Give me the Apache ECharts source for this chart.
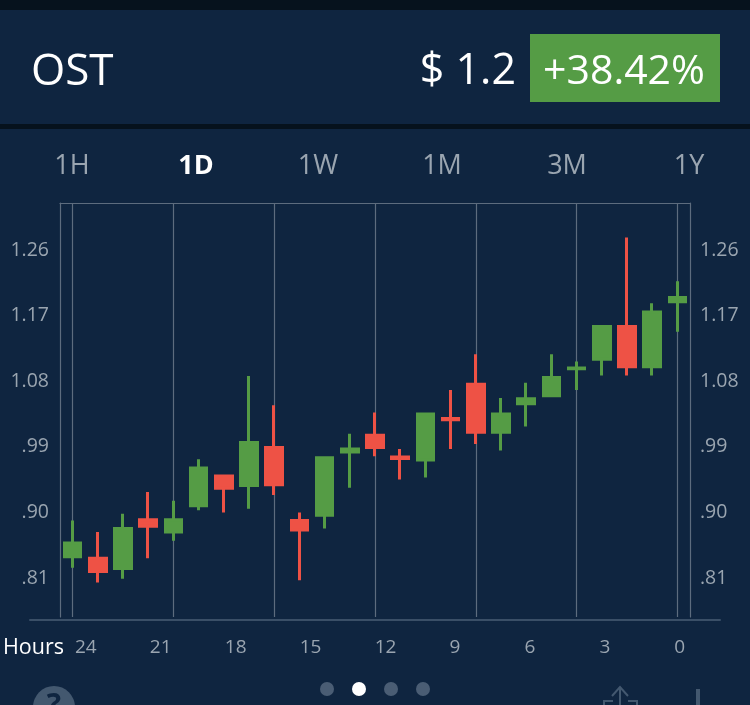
<!DOCTYPE html>
<html>
<head>
<meta charset="utf-8">
<style>
html,body{margin:0;padding:0;background:#0f2540;}
#chart{width:750px;height:705px;}
</style>
<script src="https://cdn.jsdelivr.net/npm/echarts@6/dist/echarts.min.js"></script>
</head>
<body>
<div id="chart"></div>
<script>
// candles, oldest first
var candles = ['c0','c1','c2','c3','c4','c5','c6','c7','c8','c9','c10','c11','c12','c13','c14','c15','c16','c17','c18','c19','c20','c21','c22','c23','c24'];
var opens  = [.839,.837,.823,.890,.873,.909,.950,.937,.989,.889,.896,.983,1.006,.976,.972,1.029,1.076,1.010,1.049,1.060,1.097,1.110,1.155,1.100,1.189];
var closes = [.858,.819,.878,.881,.890,.961,.933,.996,.938,.876,.975,.987,.989,.974,1.035,1.027,1.010,1.035,1.056,1.085,1.098,1.155,1.100,1.175,1.195];
var lows   = [.824,.804,.809,.837,.861,.903,.900,.905,.924,.807,.878,.934,.977,.945,.948,.987,.994,.985,1.018,1.058,1.068,1.088,1.088,1.088,1.148];
var highs  = [.889,.873,.898,.928,.916,.973,.952,1.087,1.047,.900,.977,1.008,1.037,.987,1.037,1.068,1.117,1.057,1.078,1.117,1.107,1.157,1.277,1.187,1.217];

var priceTicks = [.81,.90,.99,1.08,1.17,1.26];
var hourTicks = [24,21,18,15,12,9,6,3,0];
var tabs = ['1H','1D','1W','1M','3M','1Y'];
var pageDots = [0,1,2,3];

var BG = '#0f2540', DARK = '#06121d', GREEN = '#559c45', RED = '#ee5245';
var LINE = '#5d6c7e', MUTED = '#9aa5b0', ICON = '#43586f';
var FONT = '"Open Sans", sans-serif';

var candleData = candles.map(function (c, i) {
    return [opens[i], closes[i], lows[i], highs[i]];
});

function priceLabel(v) {
    return v.toFixed(2).replace(/^0/, '');
}

var tabX = [72, 196, 318, 442, 567, 689];
var dotX = [327, 359, 391, 423];

var graphics = [
    {type: 'rect', shape: {x: 0, y: 0, width: 750, height: 10}, style: {fill: DARK}},
    {type: 'rect', shape: {x: 0, y: 124, width: 750, height: 5}, style: {fill: DARK}},
    {type: 'rect', shape: {x: 530, y: 34, width: 190, height: 68}, style: {fill: GREEN}},
    {type: 'text', x: 31, y: 72, style: {text: 'OST', fill: '#fff', font: '44px ' + FONT, textVerticalAlign: 'middle'}},
    {type: 'text', x: 516, y: 72, style: {text: '$ 1.2', fill: '#fff', font: '43px ' + FONT, textAlign: 'right', textVerticalAlign: 'middle'}},
    {type: 'text', x: 624, y: 72, style: {text: '+38.42%', fill: '#fff', font: '41px ' + FONT, textAlign: 'center', textVerticalAlign: 'middle'}},
    {type: 'text', x: 3, y: 648, style: {text: 'Hours', fill: '#fff', font: '21.5px ' + FONT, textVerticalAlign: 'middle'}},
    // help + share icons, cut by the bottom of the picture
    {type: 'circle', shape: {cx: 54, cy: 707, r: 21}, style: {fill: ICON}},
    {type: 'text', x: 54, y: 706, style: {text: '?', fill: BG, font: 'bold 30px ' + FONT, textAlign: 'center', textVerticalAlign: 'middle'}},
    {type: 'polyline', shape: {points: [[604, 705], [604, 701], [613, 701]]}, style: {stroke: ICON, lineWidth: 2, fill: null}},
    {type: 'polyline', shape: {points: [[628, 701], [637, 701], [637, 705]]}, style: {stroke: ICON, lineWidth: 2, fill: null}},
    {type: 'polyline', shape: {points: [[620, 705], [620, 688]]}, style: {stroke: ICON, lineWidth: 2, fill: null}},
    {type: 'polyline', shape: {points: [[612, 696], [620, 687], [628, 696]]}, style: {stroke: ICON, lineWidth: 2, fill: null}},
    {type: 'rect', shape: {x: 696, y: 689, width: 4, height: 16}, style: {fill: ICON}}
];
tabs.forEach(function (t, i) {
    graphics.push({type: 'text', x: tabX[i], y: 166, style: {
        text: t,
        fill: t == '1D' ? '#fff' : MUTED,
        font: (t == '1D' ? 'bold ' : '') + '27px ' + FONT,
        textAlign: 'center', textVerticalAlign: 'middle'
    }});
});
pageDots.forEach(function (d, i) {
    graphics.push({type: 'circle', shape: {cx: dotX[i], cy: 689, r: 7}, style: {fill: d == 1 ? '#fff' : '#4a5d74'}});
});

var myChart = echarts.init(document.getElementById('chart'));
var option = {
    animation: false,
    backgroundColor: BG,
    graphic: graphics,
    grid: [
        {left: 60, right: 60, top: 203, bottom: 88},
        {left: 30, right: 30, top: 203, bottom: 85}
    ],
    xAxis: [
        {
            type: 'category',
            data: candles,
            position: 'top',
            axisLine: {lineStyle: {color: LINE, width: 1.2}},
            axisTick: {show: false},
            axisLabel: {show: false},
            splitLine: {show: true, alignWithLabel: true, interval: 3, lineStyle: {color: LINE, width: 1.2}}
        },
        {
            // hour scale runs backwards, its labels start right at the value
            type: 'value',
            gridIndex: 1,
            inverse: true,
            min: -1.83,
            max: 25.8,
            axisLine: {onZero: false, lineStyle: {color: '#3a4f67', width: 2}},
            axisTick: {show: false},
            splitLine: {show: false},
            axisLabel: {
                customValues: hourTicks,
                align: 'left',
                margin: 18,
                color: MUTED,
                fontFamily: FONT,
                fontSize: 19
            }
        }
    ],
    yAxis: [
        {
            type: 'value',
            min: 0.7565,
            max: 1.3245,
            position: 'left',
            axisLine: {show: true, onZero: false, lineStyle: {color: LINE, width: 1.2}},
            axisTick: {show: false},
            splitLine: {show: false},
            axisLabel: {customValues: priceTicks, formatter: priceLabel, margin: 11, padding: [3, 0, 0, 0], color: MUTED, fontFamily: FONT, fontSize: 19.5}
        },
        {
            type: 'value',
            min: 0.7565,
            max: 1.3245,
            position: 'right',
            axisLine: {show: true, onZero: false, lineStyle: {color: LINE, width: 1.2}},
            axisTick: {show: false},
            splitLine: {show: false},
            axisLabel: {customValues: priceTicks, formatter: priceLabel, margin: 10, padding: [3, 0, 0, 0], color: MUTED, fontFamily: FONT, fontSize: 19.5}
        },
        {type: 'value', gridIndex: 1, show: false}
    ],
    series: [
        {
            type: 'candlestick',
            barWidth: 17,
            data: candleData,
            itemStyle: {
                color: GREEN,
                color0: RED,
                borderColor: GREEN,
                borderColor0: RED,
                borderWidth: 3
            }
        }
    ]
};
myChart.setOption(option);
</script>
</body>
</html>
